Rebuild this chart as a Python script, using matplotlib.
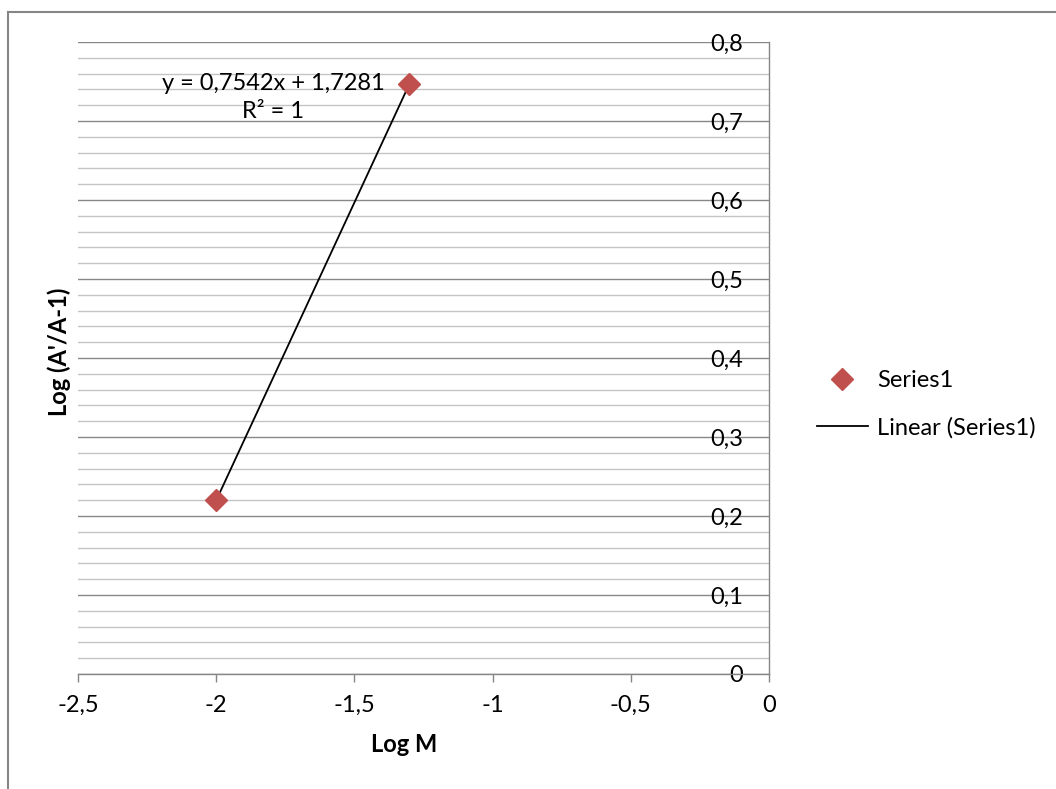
"""Log (A'/A-1) vs Log M with linear trendline, Excel-style layout."""
import matplotlib
matplotlib.use("Agg")
import matplotlib.pyplot as plt
import numpy as np
from matplotlib.lines import Line2D
from matplotlib.ticker import FuncFormatter, MultipleLocator

plt.rcParams["font.family"] = ["Lato", "DejaVu Sans"]

# --- data ---
log_m = [-2.0, -1.30103]
log_ratio = [0.2197, 0.74685]
series_name = "Series1"
x_label = "Log M"
y_label = "Log (A'/A-1)"

GRID_MAJOR = "#888888"
GRID_MINOR = "#c4c4c4"
AXIS_GREY = "#868686"
MARKER_RED = "#c0504d"
FS = 17

fig = plt.figure(figsize=(10.56, 7.89), dpi=100)
ax = fig.add_axes([78 / 1056, 115 / 789, 691 / 1056, 632 / 789])

# trendline from a least-squares fit
slope, intercept = np.polyfit(log_m, log_ratio, 1)
xs = np.array([min(log_m), max(log_m)])
ax.plot(xs, slope * xs + intercept, color="black", lw=1.3,
        label=f"Linear ({series_name})", zorder=3)
ax.plot(log_m, log_ratio, linestyle="none", marker="D", markersize=11,
        color=MARKER_RED, label=series_name, zorder=4)

r2 = np.corrcoef(log_m, log_ratio)[0, 1] ** 2
eq = f"y = {slope:.4f}x + {intercept:.4f}".replace(".", ",")
ax.text(-1.7945, 0.748, eq, fontsize=FS, ha="center", va="center")
ax.text(-1.7945, 0.7114, f"R² = {r2:.0f}", fontsize=FS, ha="center", va="center")

ax.set_xlim(-2.5, 0)
ax.set_ylim(0, 0.8)
ax.xaxis.set_major_locator(MultipleLocator(0.5))
ax.yaxis.set_major_locator(MultipleLocator(0.1))
ax.yaxis.set_minor_locator(MultipleLocator(0.02))
comma = FuncFormatter(lambda v, _: f"{v:g}".replace(".", ","))
ax.xaxis.set_major_formatter(comma)
ax.yaxis.set_major_formatter(comma)

ax.grid(axis="y", which="major", color=GRID_MAJOR, lw=1.0)
ax.grid(axis="y", which="minor", color=GRID_MINOR, lw=1.0)
ax.set_axisbelow(True)

for side in ("top", "left"):
    ax.spines[side].set_visible(False)
for side in ("right", "bottom"):
    ax.spines[side].set_color(AXIS_GREY)
    ax.spines[side].set_linewidth(1.0)

ax.yaxis.tick_right()
ax.tick_params(axis="y", which="both", length=0, pad=-18.5, labelsize=FS)
for lbl in ax.get_yticklabels():
    lbl.set_horizontalalignment("right")
ax.tick_params(axis="x", which="major", length=6, width=1.0, color=AXIS_GREY,
               pad=9, labelsize=FS)
ax.tick_params(axis="x", which="minor", length=0)

ax.set_xlabel(x_label, fontsize=FS, fontweight="bold")
ax.xaxis.set_label_coords(0.472, -0.093)
ax.set_ylabel(y_label, fontsize=FS, fontweight="bold")
ax.yaxis.set_label_position("left")
ax.yaxis.set_label_coords(-0.010, 0.51)

handles, labels = ax.get_legend_handles_labels()
ax.legend(handles[::-1], labels[::-1], loc="center left",
          bbox_to_anchor=(1.0386, 0.427), frameon=False, fontsize=FS,
          handlelength=2.16, handletextpad=0.38, labelspacing=1.1)

# chart-area frame (left and top edges visible in the crop)
fig.add_artist(Line2D([8 / 1056, 8 / 1056], [0, 1 - 12 / 789],
                      color=AXIS_GREY, lw=1.5, transform=fig.transFigure))
fig.add_artist(Line2D([8 / 1056, 1], [1 - 12 / 789, 1 - 12 / 789],
                      color=AXIS_GREY, lw=1.5, transform=fig.transFigure))

fig.savefig("out.png", dpi=100)
